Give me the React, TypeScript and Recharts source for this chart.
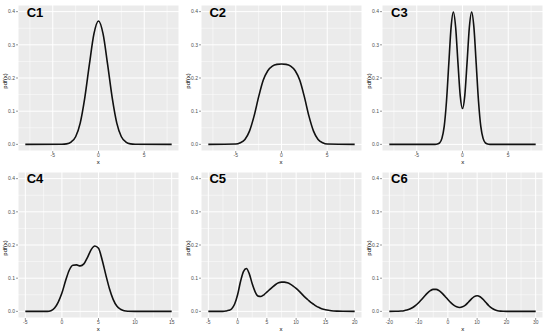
import { LineChart, Line, XAxis, YAxis, CartesianGrid } from 'recharts';

// density curves
const c1X = [-8, -4, -3.5, -3, -2.5, -2, -1.5, -1, -0.5, 0, 0.5, 1, 1.5, 2, 2.5, 3, 3.5, 4, 8];
const c1Y = [0, 0.0003, 0.0015, 0.007, 0.023, 0.064, 0.14, 0.24, 0.333, 0.372, 0.333, 0.24, 0.14, 0.064, 0.023, 0.007, 0.0015, 0.0003, 0];

const c2X = [-8, -5, -4.5, -4, -3.5, -3, -2.5, -2, -1.5, -1, -0.5, 0, 0.5, 1, 1.5, 2, 2.5, 3, 3.5, 4, 4.5, 5, 8];
const c2Y = [0, 0.001, 0.005, 0.015, 0.04, 0.085, 0.143, 0.193, 0.222, 0.236, 0.241, 0.242, 0.241, 0.236, 0.222, 0.193, 0.143, 0.085, 0.04, 0.015, 0.005, 0.001, 0];

const c3X = [-8, -3, -2.75, -2.5, -2.25, -2, -1.75, -1.5, -1.25, -1, -0.75, -0.5, -0.25, 0, 0.25, 0.5, 0.75, 1, 1.25, 1.5, 1.75, 2, 2.25, 2.5, 2.75, 3, 8];
const c3Y = [0, 0.0001, 0.001, 0.0045, 0.018, 0.054, 0.13, 0.242, 0.352, 0.399, 0.353, 0.247, 0.147, 0.108, 0.147, 0.247, 0.353, 0.399, 0.352, 0.242, 0.13, 0.054, 0.018, 0.0045, 0.001, 0.0001, 0];

const c4X = [-5, -2, -1.5, -1, -0.5, 0, 0.5, 1, 1.5, 2, 2.5, 3, 3.5, 4, 4.5, 5, 5.5, 6, 6.5, 7, 7.5, 8, 8.5, 9, 10, 15];
const c4Y = [0, 0, 0.002, 0.01, 0.028, 0.055, 0.092, 0.124, 0.139, 0.14, 0.137, 0.143, 0.163, 0.186, 0.197, 0.19, 0.155, 0.11, 0.068, 0.036, 0.016, 0.0065, 0.002, 0.0005, 0, 0];

const c5X = [-5, -2.5, -2, -1.5, -1, -0.5, 0, 0.5, 1, 1.5, 2, 2.5, 3, 3.5, 4, 4.5, 5, 5.5, 6, 6.5, 7, 7.5, 8, 8.5, 9, 9.5, 10, 10.5, 11, 11.5, 12, 12.5, 13, 13.5, 14, 14.5, 15, 16, 17, 18, 20];
const c5Y = [0, 0, 0.001, 0.003, 0.008, 0.022, 0.05, 0.09, 0.12, 0.129, 0.113, 0.083, 0.059, 0.046, 0.045, 0.05, 0.058, 0.066, 0.074, 0.081, 0.086, 0.088, 0.088, 0.086, 0.082, 0.076, 0.069, 0.061, 0.052, 0.043, 0.035, 0.027, 0.021, 0.015, 0.011, 0.007, 0.005, 0.002, 0.0007, 0.0002, 0];

const c6X = [-20, -18, -16, -15, -14, -13, -12, -11, -10, -9, -8, -7, -6, -5, -4, -3, -2, -1, 0, 1, 2, 3, 4, 5, 6, 7, 8, 9, 10, 11, 12, 13, 14, 15, 16, 17, 18, 19, 20, 22, 30];
const c6Y = [0, 0.0002, 0.0011, 0.0021, 0.004, 0.007, 0.0115, 0.0178, 0.026, 0.0355, 0.0456, 0.055, 0.0623, 0.0663, 0.0663, 0.0623, 0.055, 0.0456, 0.0356, 0.0263, 0.0186, 0.0136, 0.0117, 0.0136, 0.019, 0.0276, 0.037, 0.0443, 0.047, 0.0441, 0.0364, 0.0265, 0.017, 0.0096, 0.0047, 0.0021, 0.0008, 0.0003, 0.0001, 0, 0];

const titles = ['C1', 'C2', 'C3', 'C4', 'C5', 'C6'];

const yTicks = [0, 0.1, 0.2, 0.3, 0.4];
const yMinor = [0.05, 0.15, 0.25, 0.35];

const xTicksTop = [-5, 0, 5];
const xMinorTop = [-7.5, -2.5, 2.5, 7.5];
const xTicksC4 = [-5, 0, 5, 10, 15];
const xMinorC4 = [-2.5, 2.5, 7.5, 12.5];
const xTicksC5 = [-5, 0, 5, 10, 15, 20];
const xMinorC5 = [-2.5, 2.5, 7.5, 12.5, 17.5];
const xTicksC6 = [-20, -10, 0, 10, 20, 30];
const xMinorC6 = [-15, -5, 5, 15, 25];

const toRows = (xs: number[], ys: number[]) => xs.map((x, i) => ({ x, y: ys[i] }));

const panels = [
  { data: toRows(c1X, c1Y), domain: [-8.8, 8.8], ticks: xTicksTop, minor: xMinorTop, left: 0, top: 0 },
  { data: toRows(c2X, c2Y), domain: [-8.8, 8.8], ticks: xTicksTop, minor: xMinorTop, left: 182.7, top: 0 },
  { data: toRows(c3X, c3Y), domain: [-8.8, 8.8], ticks: xTicksTop, minor: xMinorTop, left: 364.4, top: 0 },
  { data: toRows(c4X, c4Y), domain: [-6, 16], ticks: xTicksC4, minor: xMinorC4, left: 0, top: 166.8 },
  { data: toRows(c5X, c5Y), domain: [-6.25, 21.25], ticks: xTicksC5, minor: xMinorC5, left: 182.7, top: 166.8 },
  { data: toRows(c6X, c6Y), domain: [-22.5, 32.5], ticks: xTicksC6, minor: xMinorC6, left: 364.4, top: 166.8 },
];

const font = 'Liberation Sans, Arial, sans-serif';
const tickStyle = { fontSize: 5, fill: '#4D4D4D', fontFamily: font };

function Panel({ p, title }: { p: (typeof panels)[number]; title: string }) {
  return (
    <div style={{ position: 'absolute', left: p.left, top: p.top, width: 183, height: 167 }}>
      <LineChart width={183} height={167} data={p.data} margin={{ top: 5, right: 4, left: 0, bottom: 0 }}>
        <CartesianGrid
          fill="#EBEBEB"
          stroke="#FFFFFF"
          strokeWidth={0.5}
          verticalValues={p.minor}
          horizontalValues={yMinor}
        />
        <CartesianGrid stroke="#FFFFFF" strokeWidth={1} />
        <XAxis
          dataKey="x"
          type="number"
          domain={p.domain}
          ticks={p.ticks}
          allowDataOverflow
          height={16}
          axisLine={false}
          tickLine={{ stroke: '#333333', strokeWidth: 0.5 }}
          tickSize={2}
          tickMargin={0}
          tick={tickStyle}
          interval={0}
        />
        <YAxis
          type="number"
          domain={[-0.02, 0.42]}
          ticks={yTicks}
          allowDataOverflow
          width={18}
          axisLine={false}
          tickLine={{ stroke: '#333333', strokeWidth: 0.5 }}
          tickSize={2}
          tickMargin={1}
          tick={tickStyle}
          tickFormatter={(v: number) => v.toFixed(1)}
          interval={0}
        />
        <Line
          type="monotone"
          dataKey="y"
          stroke="#111111"
          strokeWidth={1.6}
          dot={false}
          isAnimationActive={false}
        />
      </LineChart>
      <div
        style={{
          position: 'absolute', left: 26.7, top: 5.6, fontFamily: font, fontWeight: 'bold',
          fontSize: 13, lineHeight: '13px', color: '#000',
        }}
      >
        {title}
      </div>
      <div
        style={{
          position: 'absolute', left: 88.3, top: 158.9, width: 20, textAlign: 'center',
          fontFamily: font, fontSize: 6, lineHeight: '6px', color: '#000',
        }}
      >
        x
      </div>
      <div
        style={{
          position: 'absolute', left: -15, top: 78, width: 40, height: 6, textAlign: 'center',
          fontFamily: font, fontSize: 6, lineHeight: '6px', color: '#000', transform: 'rotate(-90deg)',
        }}
      >
        pdf(x)
      </div>
    </div>
  );
}

export default function App() {
  return (
    <div style={{ position: 'absolute', left: 0, top: 0, width: 550, height: 334, background: '#fff', overflow: 'hidden' }}>
      {panels.map((p, i) => (
        <Panel key={titles[i]} p={p} title={titles[i]} />
      ))}
    </div>
  );
}
